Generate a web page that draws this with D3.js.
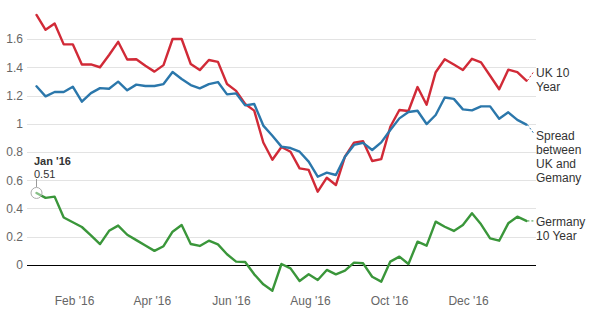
<!DOCTYPE html>
<html>
<head>
<meta charset="utf-8">
<script src="https://cdn.jsdelivr.net/npm/d3@7"></script>
<style>
  html, body { margin: 0; padding: 0; background: #fff; }
  svg { display: block; font-family: "Liberation Sans", Arial, sans-serif; }
</style>
</head>
<body>
<svg id="chart" width="600" height="322"></svg>
<script>
// Weekly observations, 10-year government bond yields (%)
const weeks = [
  "2016-01-03","2016-01-10","2016-01-17","2016-01-24","2016-01-31",
  "2016-02-07","2016-02-14","2016-02-21","2016-02-28",
  "2016-03-06","2016-03-13","2016-03-20","2016-03-27",
  "2016-04-03","2016-04-10","2016-04-17","2016-04-24",
  "2016-05-01","2016-05-08","2016-05-15","2016-05-22","2016-05-29",
  "2016-06-05","2016-06-12","2016-06-19","2016-06-26",
  "2016-07-03","2016-07-10","2016-07-17","2016-07-24","2016-07-31",
  "2016-08-07","2016-08-14","2016-08-21","2016-08-28",
  "2016-09-04","2016-09-11","2016-09-18","2016-09-25",
  "2016-10-02","2016-10-09","2016-10-16","2016-10-23","2016-10-30",
  "2016-11-06","2016-11-13","2016-11-20","2016-11-27",
  "2016-12-04","2016-12-11","2016-12-18","2016-12-25",
  "2017-01-01","2017-01-08","2017-01-15"
];

const ukYield = [
  1.77, 1.665, 1.71, 1.562, 1.562, 1.42, 1.42, 1.40, 1.487, 1.58,
  1.455, 1.457, 1.41, 1.369, 1.415, 1.60, 1.60, 1.423, 1.38, 1.451,
  1.438, 1.281, 1.233, 1.14, 1.093, 0.867, 0.745, 0.835, 0.802, 0.684,
  0.673, 0.519, 0.618, 0.566, 0.767, 0.866, 0.876, 0.736, 0.75, 0.979,
  1.097, 1.09, 1.26, 1.135, 1.365, 1.457, 1.42, 1.381, 1.46, 1.435,
  1.34, 1.244, 1.383, 1.365, 1.305
];

const spread = [
  1.265, 1.194, 1.225, 1.225, 1.262, 1.156, 1.217, 1.252, 1.248, 1.298,
  1.237, 1.277, 1.267, 1.267, 1.281, 1.366, 1.317, 1.274, 1.251, 1.281,
  1.295, 1.208, 1.215, 1.13, 1.14, 0.987, 0.915, 0.838, 0.828, 0.802,
  0.732, 0.625, 0.654, 0.637, 0.767, 0.85, 0.865, 0.814, 0.868, 0.956,
  1.038, 1.083, 1.092, 0.998, 1.062, 1.186, 1.176, 1.102, 1.095, 1.123,
  1.123, 1.036, 1.081, 1.027, 0.994
];

const germanyYield = [
  0.51, 0.475, 0.484, 0.336, 0.303, 0.269, 0.21, 0.148, 0.242, 0.279,
  0.214, 0.176, 0.138, 0.10, 0.133, 0.236, 0.283, 0.149, 0.135, 0.172,
  0.146, 0.076, 0.024, 0.021, -0.066, -0.137, -0.182, 0.007, -0.024, -0.113,
  -0.066, -0.106, -0.035, -0.066, -0.04, 0.017, 0.012, -0.083, -0.118, 0.024,
  0.059, 0.007, 0.165, 0.137, 0.307, 0.271, 0.241, 0.283, 0.366, 0.288,
  0.189, 0.172, 0.295, 0.342, 0.312
];

const yTicks = [0, 0.2, 0.4, 0.6, 0.8, 1, 1.2, 1.4, 1.6];
const xTickMonths = ["2016-02-01","2016-04-01","2016-06-01","2016-08-01","2016-10-01","2016-12-01"];

const seriesNames = [["UK 10", "Year"], ["Spread", "between", "UK and", "Gemany"], ["Germany", "10 Year"]];

// ---- layout ----
const parse = d3.utcParse("%Y-%m-%d");
const dates = weeks.map(parse);

const plotLeft = 27, plotRight = 536;
const x = d3.scaleUtc()
  .domain([dates[0], dates[dates.length - 1]])
  .range([36.5, 526.4]);
const y = d3.scaleLinear().domain([-0.2, 1.8]).range([293.25, 10.75]);

const svg = d3.select("#chart");

// horizontal grid
svg.append("g")
  .selectAll("line")
  .data(yTicks.filter(d => d !== 0))
  .join("line")
  .attr("x1", plotLeft).attr("x2", plotRight)
  .attr("y1", d => Math.round(y(d)) + 0.5).attr("y2", d => Math.round(y(d)) + 0.5)
  .attr("stroke", "#e3e3e3").attr("stroke-width", 1);

// y axis labels
const yAxis = svg.append("g")
  .attr("transform", `translate(${plotLeft - 4},0)`)
  .call(d3.axisLeft(y).tickValues(yTicks).tickSize(0).tickPadding(0)
    .tickFormat(d => d3.format("~g")(d)));
yAxis.select(".domain").remove();
yAxis.selectAll("text")
  .attr("fill", "#666").attr("font-size", 12)
  .attr("font-family", "Liberation Sans, Arial, sans-serif");

// x axis labels
const xAxis = svg.append("g")
  .attr("transform", `translate(0,294)`)
  .call(d3.axisBottom(x).tickValues(xTickMonths.map(parse)).tickSize(0).tickPadding(0)
    .tickFormat(d3.utcFormat("%b '%y")));
xAxis.select(".domain").remove();
xAxis.selectAll("text")
  .attr("fill", "#666").attr("font-size", 12)
  .attr("dy", "0.95em")
  .attr("font-family", "Liberation Sans, Arial, sans-serif");

// zero line
svg.append("line")
  .attr("x1", plotLeft).attr("x2", plotRight)
  .attr("y1", Math.round(y(0)) + 0.5).attr("y2", Math.round(y(0)) + 0.5)
  .attr("stroke", "#000").attr("stroke-width", 1);

// series
const series = [
  { values: ukYield, color: "#d12a37", labelY: 73, names: seriesNames[0], endY: 72 },
  { values: spread, color: "#2b77ab", labelY: 135.5, names: seriesNames[1], endY: 133 },
  { values: germanyYield, color: "#3a963a", labelY: 222, names: seriesNames[2], endY: null }
];

const line = d3.line()
  .x((d, i) => x(dates[i]))
  .y(d => y(d))
  .curve(d3.curveLinear);

series.forEach(s => {
  svg.append("path")
    .datum(s.values)
    .attr("fill", "none")
    .attr("stroke", s.color)
    .attr("stroke-width", 2.4)
    .attr("stroke-linejoin", "round")
    .attr("stroke-linecap", "round")
    .attr("d", line);

  const last = s.values.length - 1;
  const lx = x(dates[last]), ly = y(s.values[last]);
  const ey = s.endY === null ? ly : s.endY;
  svg.append("line")
    .attr("x1", lx + 1).attr("y1", ly)
    .attr("x2", 533.5).attr("y2", ey)
    .attr("stroke", s.color).attr("stroke-width", 1)
    .attr("stroke-dasharray", "2,2");

  const t = svg.append("text")
    .attr("x", 536)
    .attr("y", s.labelY)
    .attr("fill", "#333")
    .attr("font-size", 12)
    .attr("font-family", "Liberation Sans, Arial, sans-serif");
  s.names.forEach((n, k) => {
    t.append("tspan")
      .attr("x", 536)
      .attr("y", s.labelY + k * 14)
      .attr("dy", "0.35em")
      .text(n);
  });
});

// annotation for the first Germany observation
const ax = x(dates[0]), ay = y(germanyYield[0]);
svg.append("line")
  .attr("x1", ax).attr("x2", ax)
  .attr("y1", ay - 6).attr("y2", 179)
  .attr("stroke", "#999").attr("stroke-width", 1);
svg.append("circle")
  .attr("cx", ax).attr("cy", ay).attr("r", 5.5)
  .attr("fill", "rgba(255,255,255,0.4)")
  .attr("stroke", "#aaa").attr("stroke-width", 1);
svg.append("text")
  .attr("x", 34).attr("y", 165)
  .attr("fill", "#333").attr("font-size", 11).attr("font-weight", "bold")
  .attr("font-family", "Liberation Sans, Arial, sans-serif")
  .text(d3.utcFormat("%b '%y")(dates[0]));
svg.append("text")
  .attr("x", 34).attr("y", 178)
  .attr("fill", "#333").attr("font-size", 11)
  .attr("font-family", "Liberation Sans, Arial, sans-serif")
  .text(d3.format(".2f")(germanyYield[0]));
</script>
</body>
</html>
